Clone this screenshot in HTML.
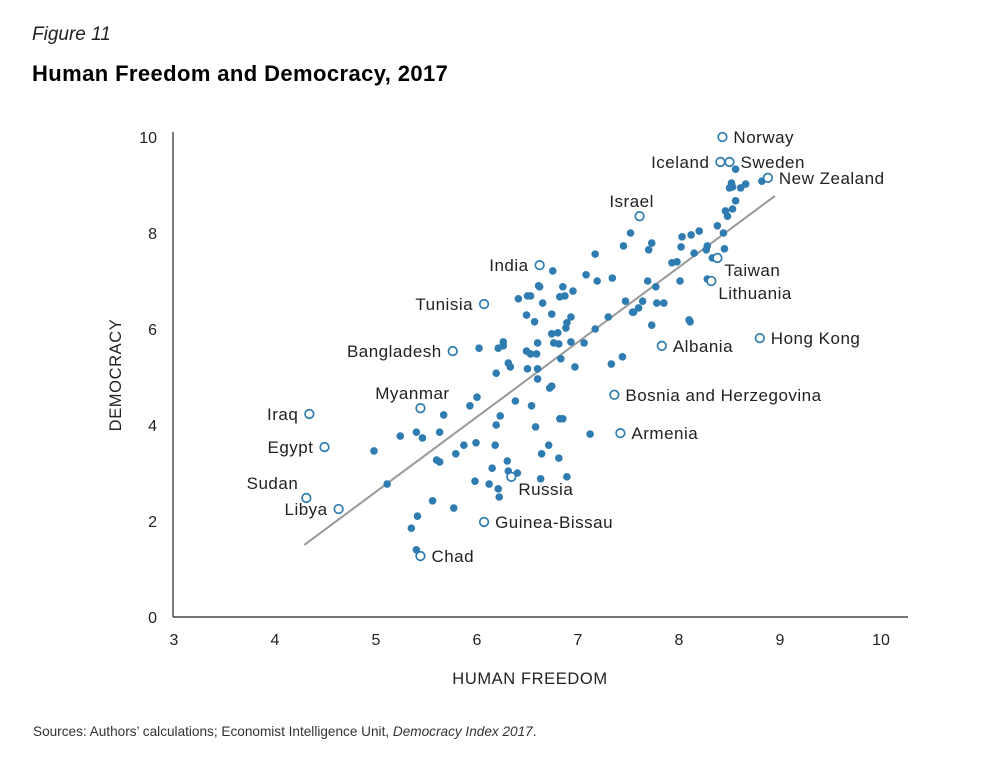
<!DOCTYPE html>
<html><head><meta charset="utf-8"><style>
body{margin:0;background:#fff;font-family:"Liberation Sans",sans-serif;}
#wrap{position:relative;width:1003px;height:775px;overflow:hidden;}
</style></head><body>
<div id="wrap">
<svg id="chart" width="1003" height="775" style="position:absolute;left:0;top:0">
<text x="32" y="40" font-size="19" font-style="italic" fill="#222">Figure 11</text>
<text x="32" y="81" font-size="22" font-weight="bold" fill="#000" letter-spacing="0.4">Human Freedom and Democracy, 2017</text>
<text x="33" y="736" font-size="13.6" fill="#333">Sources: Authors’ calculations; Economist Intelligence Unit, <tspan font-style="italic">Democracy Index 2017</tspan>.</text>
<text x="530" y="684" font-size="16.5" fill="#222" letter-spacing="0.6" text-anchor="middle">HUMAN FREEDOM</text>
<text transform="translate(121,375) rotate(-90)" font-size="16.5" letter-spacing="0.6" fill="#222" text-anchor="middle">DEMOCRACY</text>
<g id="axes"></g><g id="marks"></g>
</svg>
</div>
<script>
const xTicks=[3,4,5,6,7,8,9,10];
const yTicks=[0,2,4,6,8,10];
const dotX=[6.61,6.85,6.95,6.41,6.50,6.53,6.82,6.87,6.65,7.47,6.49,6.74,6.93,6.57,6.89,6.88,7.30,7.54,7.17,6.74,6.80,6.02,6.21,6.26,6.26,6.60,6.76,6.81,6.93,7.06,6.49,6.53,6.59,6.83,6.31,6.33,6.19,6.50,6.60,6.60,6.97,7.33,7.44,6.74,6.72,6.00,5.93,6.38,6.54,5.67,6.23,6.19,6.82,6.85,6.58,7.12,5.24,5.40,5.46,5.63,4.98,5.87,5.99,6.18,6.71,5.79,6.64,6.81,5.60,5.63,6.30,6.15,6.31,6.40,6.63,6.89,5.98,6.12,6.21,6.22,5.11,5.56,5.77,5.41,5.35,5.40,8.56,8.52,8.50,8.53,8.61,8.66,8.82,8.56,8.46,8.53,8.48,8.38,8.44,8.20,8.12,8.03,7.52,7.45,7.73,7.70,8.02,8.28,8.27,8.15,8.45,8.33,7.17,7.93,7.98,7.08,7.19,7.34,7.69,7.77,8.01,7.64,7.60,7.55,7.78,7.85,7.73,8.10,8.11,8.28,6.75,6.62];
const dotY=[6.90,6.88,6.79,6.63,6.69,6.69,6.67,6.69,6.54,6.58,6.29,6.31,6.25,6.15,6.13,6.02,6.25,6.35,6.00,5.90,5.92,5.60,5.60,5.73,5.65,5.71,5.71,5.69,5.73,5.71,5.54,5.48,5.48,5.38,5.29,5.21,5.08,5.17,5.17,4.96,5.21,5.27,5.42,4.81,4.77,4.58,4.40,4.50,4.40,4.21,4.19,4.00,4.13,4.13,3.96,3.81,3.77,3.85,3.73,3.85,3.46,3.58,3.63,3.58,3.58,3.40,3.40,3.31,3.27,3.23,3.25,3.10,3.04,3.00,2.88,2.92,2.83,2.77,2.67,2.50,2.77,2.42,2.27,2.10,1.85,1.40,9.33,9.04,8.94,8.96,8.94,9.02,9.08,8.67,8.46,8.50,8.35,8.15,8.00,8.04,7.96,7.92,8.00,7.73,7.79,7.65,7.71,7.73,7.65,7.58,7.67,7.48,7.56,7.38,7.40,7.13,7.00,7.06,7.00,6.88,7.00,6.58,6.44,6.35,6.54,6.54,6.08,6.19,6.15,7.04,7.21,6.88];
const labNames=["Norway","Iceland","Sweden","New Zealand","Israel","India","Taiwan","Lithuania","Tunisia","Bangladesh","Albania","Hong Kong","Myanmar","Bosnia and Herzegovina","Iraq","Armenia","Egypt","Russia","Sudan","Libya","Guinea-Bissau","Chad"];
const labX=[8.43,8.41,8.50,8.88,7.61,6.62,8.38,8.32,6.07,5.76,7.83,8.80,5.44,7.36,4.34,7.42,4.49,6.34,4.31,4.63,6.07,5.44];
const labY=[10.0,9.48,9.48,9.15,8.35,7.33,7.48,7.00,6.52,5.54,5.65,5.81,4.35,4.63,4.23,3.83,3.54,2.92,2.48,2.25,1.98,1.27];
const labPos=["r","l","r","r","t","l","br","br","l","l","r","r","t","r","l","r","l","br","tl","l","r","r"];
const fitRange=[4.29,8.95];
const fitSlope=1.56, fitIntercept=-5.19;

const X=v=>174+(v-3)*101;
const Y=v=>617-v*48;
const NS="http://www.w3.org/2000/svg";
const C="#2f7cb1";
function mk(tag,attrs,parent){const e=document.createElementNS(NS,tag);for(const k in attrs)e.setAttribute(k,attrs[k]);parent.appendChild(e);return e;}
const axes=document.getElementById('axes'), marks=document.getElementById('marks');
let e=mk('line',{x1:173,y1:132,x2:173,y2:617,stroke:'#222','stroke-width':1.2},axes);


e=mk('line',{x1:173,y1:617,x2:908,y2:617,stroke:'#222','stroke-width':1.2},axes);


xTicks.forEach(t=>{const el=mk('text',{x:X(t),y:645,'font-size':16,'text-anchor':'middle',fill:'#222'},axes);el.textContent=t;

});
yTicks.forEach(t=>{const el=mk('text',{x:157,y:Y(t)+6,'font-size':16,'text-anchor':'end',fill:'#222'},axes);el.textContent=t;

});
const fl=mk('line',{x1:X(fitRange[0]),y1:Y(fitSlope*fitRange[0]+fitIntercept),x2:X(fitRange[1]),y2:Y(fitSlope*fitRange[1]+fitIntercept),stroke:'#999','stroke-width':2},marks);


dotX.forEach((v,i)=>{const d=mk('circle',{cx:X(v),cy:Y(dotY[i]),r:3.8,fill:C},marks);

});
labNames.forEach((n,i)=>{const cx=X(labX[i]),cy=Y(labY[i]);
const c=mk('circle',{cx:cx,cy:cy,r:4.3,fill:'#fff',stroke:C,'stroke-width':1.7},marks);


const p=labPos[i];let a={x:cx+11,y:cy+6,'text-anchor':'start'};
if(p==='l')a={x:cx-11,y:cy+6,'text-anchor':'end'};
if(p==='t')a={x:cx-8,y:cy-9,'text-anchor':'middle'};
if(p==='br')a={x:cx+7,y:cy+18,'text-anchor':'start'};
if(p==='tl')a={x:cx-8,y:cy-9,'text-anchor':'end'};
a['font-size']=17;a.fill='#222';a['letter-spacing']=0.5;
const t=mk('text',a,marks);t.textContent=n;

});
</script>
</body></html>
